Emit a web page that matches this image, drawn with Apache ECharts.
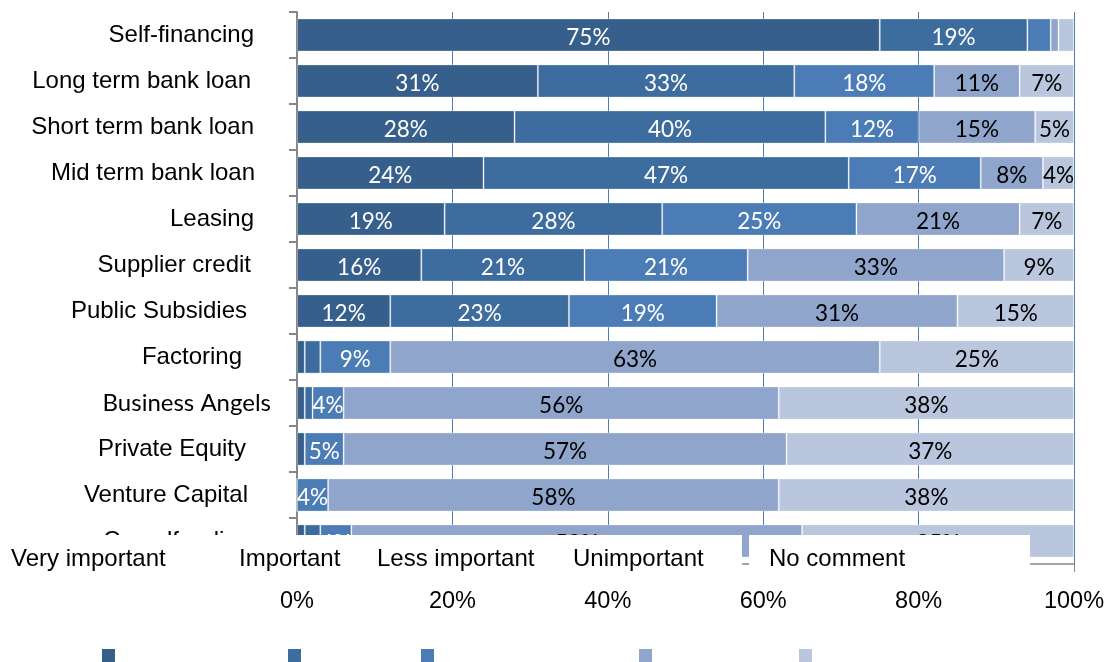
<!DOCTYPE html>
<html>
<head>
<meta charset="utf-8">
<script src="https://cdn.jsdelivr.net/npm/echarts@6/dist/echarts.min.js"></script>
<style>
  html, body { margin: 0; padding: 0; background: #fff; }
  #chart { width: 1110px; height: 662px; }
</style>
</head>
<body>
<div id="chart"></div>
<script>
// Sources of financing, share of answers per importance level (%)
const categories = [
  'Self-financing', 'Long term bank loan', 'Short term bank loan', 'Mid term bank loan',
  'Leasing', 'Supplier credit', 'Public Subsidies', 'Factoring',
  'Business Angels', 'Private Equity', 'Venture Capital', 'Crowdfunding'
];
const seriesNames = ['Very important', 'Important', 'Less important', 'Unimportant', 'No comment'];
const veryImportant = [75, 31, 28, 24, 19, 16, 12, 1, 1, 1, 0, 1];
const important     = [19, 33, 40, 47, 28, 21, 23, 2, 1, 0, 0, 2];
const lessImportant = [3, 18, 12, 17, 25, 21, 19, 9, 4, 5, 4, 4];
const unimportant   = [1, 11, 15, 8, 21, 33, 31, 63, 56, 57, 58, 58];
const noComment     = [2, 7, 5, 4, 7, 9, 15, 25, 38, 37, 38, 35];

const values = [veryImportant, important, lessImportant, unimportant, noComment];
const colors = ['#375F8C', '#3D6D9F', '#4B7CB6', '#8FA5CB', '#B9C6DE'];
const labelColors = ['#fff', '#fff', '#fff', '#000', '#000'];

const sansFont = '"Liberation Sans", Arial, sans-serif';
const labelFont = 'Lato, "Open Sans", sans-serif';

// small nudges for individual category labels: [dx (right +), dy (down +)]
const labelNudge = {
  'Self-financing': [3, 4], 'Long term bank loan': [0, 1], 'Short term bank loan': [3, 1],
  'Mid term bank loan': [4, 0], 'Leasing': [3, -4], 'Supplier credit': [0, -6],
  'Public Subsidies': [-4, -1], 'Factoring': [-9, 0], 'Business Angels': [20, 2],
  'Private Equity': [-5, 2], 'Venture Capital': [-3, 0]
};

const yData = categories.map(function (c) {
  const n = labelNudge[c] || [0, 0];
  const dy = n[1];
  const ts = { padding: [dy > 0 ? 2 * dy : 0, -n[0], dy < 0 ? -2 * dy : 0, 0] };
  if (c === 'Business Angels') { ts.fontFamily = labelFont; ts.fontSize = 24; }
  return { value: c, textStyle: ts };
});

const series = seriesNames.map(function (name, i) {
  return {
    name: name,
    type: 'bar',
    stack: 'total',
    barCategoryGap: '28%',
    data: values[i],
    itemStyle: { color: colors[i], borderColor: 'rgba(255,255,255,0.3)', borderWidth: 1 },
    label: {
      show: true,
      position: 'inside',
      offset: [0, 2.5],
      fontFamily: labelFont,
      fontSize: 22.5,
      color: labelColors[i],
      formatter: function (p) { return p.value >= 4 ? p.value + '%' : ''; }
    },
    emphasis: { disabled: true }
  };
});

// legend text boxes: [left edge, right edge, text start, text centre y]
const textBoxes = [
  [5, 232, 10, 564],
  [232, 370, 238, 567],
  [370, 566, 376, 567],
  [566, 741, 572, 567],
  [748, 1029, 768, 563]
];
const boxTop = 535, boxBottom = 583, lineH = 26, legendFontSize = 24;
const swatchLeft = [102, 288, 421, 639, 799];

const legends = [];
seriesNames.forEach(function (name, i) {
  const b = textBoxes[i];
  const padTop = b[3] - boxTop - lineH / 2;
  const padBottom = boxBottom - boxTop - padTop - lineH;
  legends.push({
    data: [name],
    left: b[0] - 5,
    top: boxTop,
    padding: 0,
    itemWidth: 0,
    itemHeight: 0,
    selectedMode: false,
    textStyle: {
      fontFamily: sansFont,
      fontSize: legendFontSize,
      color: '#000',
      backgroundColor: '#fff',
      lineHeight: lineH,
      width: b[1] - b[2],
      padding: [padTop, 0, padBottom, b[2] - b[0]]
    }
  });
});
seriesNames.forEach(function (name, i) {
  legends.push({
    data: [name],
    left: swatchLeft[i],
    top: 649,
    padding: 0,
    icon: 'rect',
    itemWidth: 13,
    itemHeight: 18,
    selectedMode: false,
    itemStyle: { borderWidth: 0 },
    formatter: function () { return ''; }
  });
});

const chart = echarts.init(document.getElementById('chart'), null, { renderer: 'canvas' });
chart.setOption({
  animation: false,
  backgroundColor: '#fff',
  grid: { left: 297, right: 36, top: 12, bottom: 98, containLabel: false },
  legend: legends,
  xAxis: {
    type: 'value',
    min: 0,
    max: 100,
    interval: 20,
    axisLine: { show: true, lineStyle: { color: '#868686', width: 1.5 } },
    axisTick: { show: true, length: 8, lineStyle: { color: '#868686' } },
    axisLabel: { formatter: '{value}%', fontFamily: sansFont, fontSize: 23.5, color: '#000', margin: 26 },
    splitLine: { show: true, lineStyle: { color: '#4A7EBB', width: 1 } }
  },
  yAxis: {
    type: 'category',
    inverse: true,
    data: yData,
    axisLine: { show: true, lineStyle: { color: '#868686', width: 2 } },
    axisTick: { show: true, length: 8, lineStyle: { color: '#868686', width: 2 } },
    axisLabel: { fontFamily: sansFont, fontSize: 24, color: '#000', margin: 46 },
    splitLine: { show: false }
  },
  series: series
});
</script>
</body>
</html>
